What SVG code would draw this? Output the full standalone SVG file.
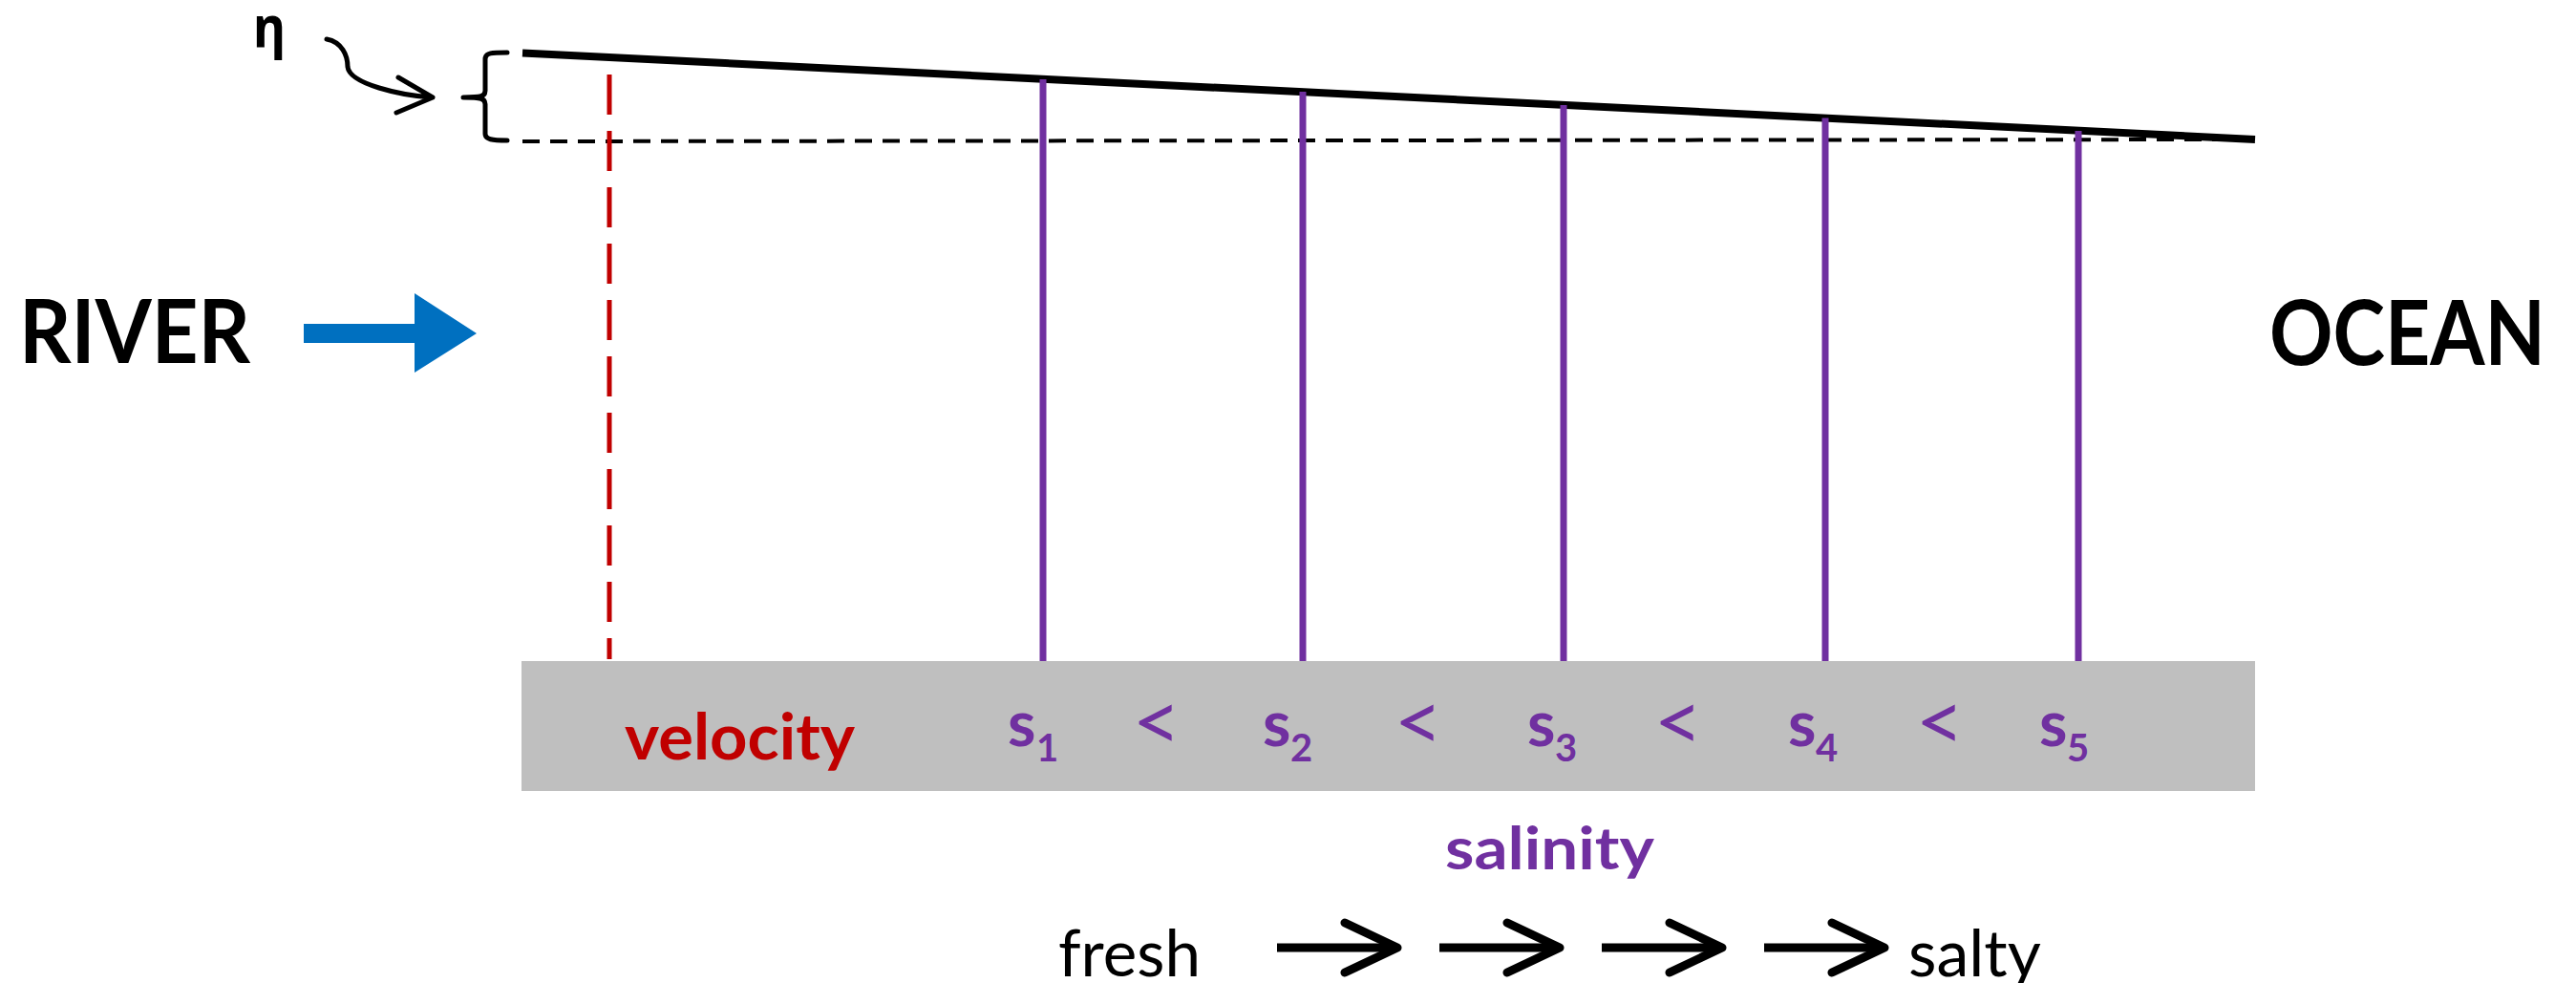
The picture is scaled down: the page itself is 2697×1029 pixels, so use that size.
<svg xmlns="http://www.w3.org/2000/svg" width="2697" height="1029" viewBox="0 0 2697 1029">
<style>
.lbl{font-family:Lato,"Liberation Sans",sans-serif;font-weight:bold}
.reg{font-family:Lato,"Liberation Sans",sans-serif;font-weight:normal}
.pur{fill:#7030A0}
.lt{font-family:Lato,"Liberation Sans",sans-serif;font-weight:normal;fill:#7030A0;font-size:88px}
.sal{stroke:#7030A0;stroke-width:7;fill:none}
.blk{stroke:#000;fill:none;stroke-linecap:round;stroke-linejoin:round}
</style>
<rect width="2697" height="1029" fill="#fff"/>
<g id="bed">
<rect x="546" y="692" width="1815" height="136" fill="#BFBFBF"/>
</g>
<g id="connectors">
<line x1="547" y1="55.5" x2="2361" y2="146" stroke="#000" stroke-width="8"/>
<line x1="547" y1="148" x2="2330" y2="146" stroke="#000" stroke-width="4" stroke-dasharray="18 11"/>
<line x1="638" y1="78" x2="638" y2="690" stroke="#C00000" stroke-width="5" stroke-dasharray="42 17"/>
<line class="sal" x1="1092" y1="83" x2="1092" y2="692"/>
<line class="sal" x1="1364" y1="96" x2="1364" y2="692"/>
<line class="sal" x1="1637" y1="110" x2="1637" y2="692"/>
<line class="sal" x1="1911" y1="123.5" x2="1911" y2="692"/>
<line class="sal" x1="2176" y1="137" x2="2176" y2="692"/>
<path class="blk" stroke-width="5" d="M531 55 C515 55 508 55 508 62 L508 95 C508 101 504 102 485 102 M485 102 C504 102 508 103 508 109 L508 140 C508 146 515 147 531 147"/>
<path class="blk" stroke-width="5" d="M342 41 C358 44 364 58 364 70 C366 88 420 100 453 102 M417 81 L453 102 L415 118"/>
<polygon points="318,339 434,339 434,307 499,349 434,390 434,359 318,359" fill="#0070C0"/>
<g stroke="#000" stroke-width="9" fill="none" stroke-linejoin="round">
<line x1="1337" y1="992" x2="1460" y2="992"/>
<line x1="1507" y1="992" x2="1630" y2="992"/>
<line x1="1677" y1="992" x2="1800" y2="992"/>
<line x1="1847" y1="992" x2="1970" y2="992"/>
<polyline stroke-linecap="round" points="1408,966 1463,992 1408,1018"/>
<polyline stroke-linecap="round" points="1578,966 1633,992 1578,1018"/>
<polyline stroke-linecap="round" points="1748,966 1803,992 1748,1018"/>
<polyline stroke-linecap="round" points="1918,966 1973,992 1918,1018"/>
</g>
</g>
<g id="eta"><text x="265" y="49" font-family="'Noto Sans','DejaVu Sans',sans-serif" font-weight="bold" font-size="60" textLength="34" lengthAdjust="spacingAndGlyphs">η</text></g>
<g id="river"><text class="lbl" x="20" y="380" font-size="91" textLength="242" lengthAdjust="spacingAndGlyphs">RIVER</text></g>
<g id="ocean"><text class="lbl" x="2376" y="382" font-size="93" textLength="289" lengthAdjust="spacingAndGlyphs">OCEAN</text></g>
<g id="velocity"><text class="lbl" x="654" y="795" font-size="66" fill="#C00000" textLength="241" lengthAdjust="spacingAndGlyphs">velocity</text></g>
<g id="s1"><text class="lbl pur" x="1055" y="781" font-size="67">s</text><text class="lbl pur" x="1085" y="797" font-size="40">1</text></g>
<g id="lt1"><text class="lt" x="1211" y="786" text-anchor="middle">&lt;</text></g>
<g id="s2"><text class="lbl pur" x="1322" y="781" font-size="67">s</text><text class="lbl pur" x="1351" y="797" font-size="40">2</text></g>
<g id="lt2"><text class="lt" x="1485" y="786" text-anchor="middle">&lt;</text></g>
<g id="s3"><text class="lbl pur" x="1599" y="781" font-size="67">s</text><text class="lbl pur" x="1628" y="797" font-size="40">3</text></g>
<g id="lt3"><text class="lt" x="1757" y="786" text-anchor="middle">&lt;</text></g>
<g id="s4"><text class="lbl pur" x="1872" y="781" font-size="67">s</text><text class="lbl pur" x="1901" y="797" font-size="40">4</text></g>
<g id="lt4"><text class="lt" x="2031" y="786" text-anchor="middle">&lt;</text></g>
<g id="s5"><text class="lbl pur" x="2135" y="781" font-size="67">s</text><text class="lbl pur" x="2164" y="797" font-size="40">5</text></g>
<g id="salinity"><text class="lbl pur" x="1513" y="910" font-size="61" textLength="219" lengthAdjust="spacingAndGlyphs">salinity</text></g>
<g id="fresh"><text class="reg" x="1108" y="1022" font-size="68" textLength="149" lengthAdjust="spacingAndGlyphs">fresh</text></g>
<g id="salty"><text class="reg" x="1998" y="1022" font-size="68">salty</text></g>
</svg>
